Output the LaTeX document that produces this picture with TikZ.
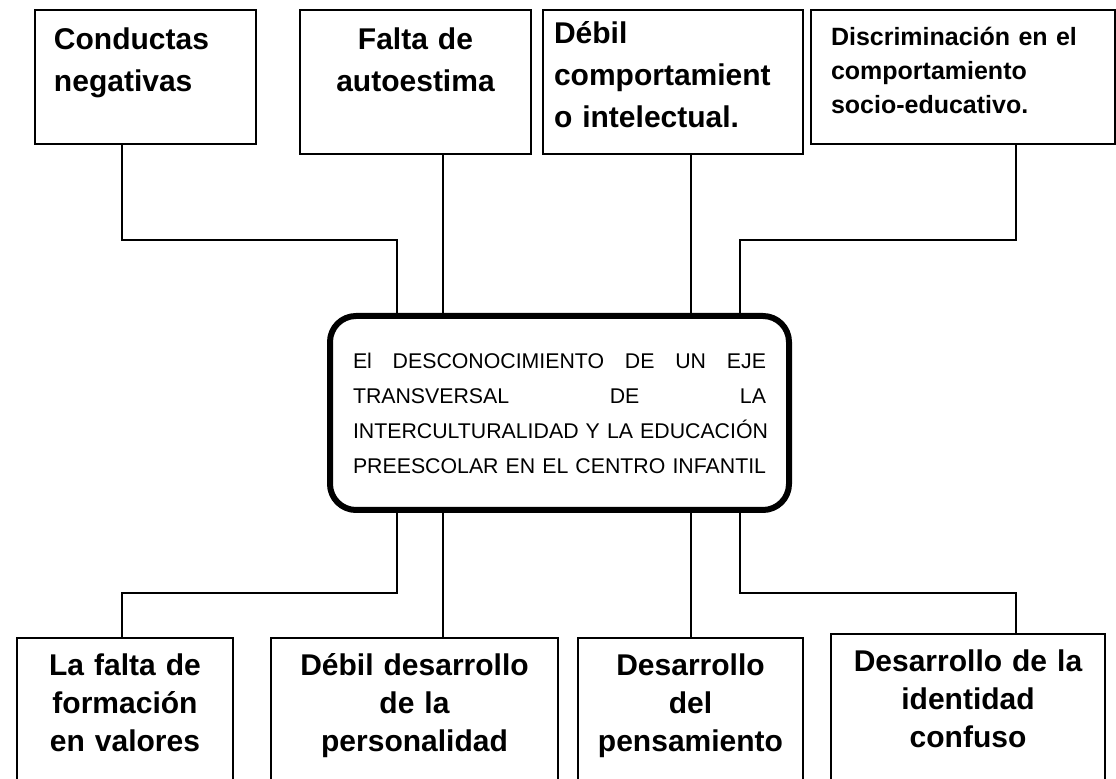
\documentclass[tikz,border=0pt]{standalone}
\usepackage{fontspec}
\setmainfont{Liberation Sans}
\newcommand{\renglon}[1]{\hbox to 206.5pt{#1}}

\begin{document}
\begin{tikzpicture}[x=0.5pt, y=-0.5pt,
  caja/.style={draw, line width=1pt, anchor=north west, inner ysep=0pt},
  efecto/.style={caja, font=\fontsize{15}{21}\selectfont\bfseries},
  causa/.style={caja, align=center, inner xsep=5pt, text height=19pt, text depth=70pt,
    font=\fontsize{15}{19}\selectfont\bfseries},
  problema/.style={draw, line width=3pt, rounded corners=13pt, inner sep=0pt,
    text width=206.5pt, minimum width=229.5pt, minimum height=97pt,
    font=\fontsize{10.65}{17.5}\selectfont},
  enlace/.style={line width=1pt}]
\useasboundingbox (0,0) rectangle (1116,779);
\clip (0,0) rectangle (1116,779);
% efectos
\node[efecto, align=left, inner xsep=9.5pt, text width=91.5pt, text height=20pt, text depth=47pt] (ef1) at (34,9) {Conductas\\negativas};
\node[efecto, align=center, inner xsep=5pt, text width=105.5pt, text height=20pt, text depth=52pt] (ef2) at (299,9) {Falta de\\autoestima};
\node[efecto, align=left, inner xsep=5.5pt, text width=119pt, text height=17pt, text depth=55pt] (ef3) at (542,9) {D\'ebil\\comportamient\\o intelectual.};
\node[efecto, align=left, inner xsep=10pt, text width=132pt, text height=18pt, text depth=49pt,
  font=\fontsize{12.5}{17}\selectfont\bfseries] (ef4) at (810,9) {Discriminaci\'on en el\\comportamiento\\socio-educativo.};
% problema central
\node[problema] (prob) at (559.5,413) {\renglon{El \hfill DESCONOCIMIENTO \hfill DE \hfill UN \hfill EJE}\par
  \renglon{TRANSVERSAL \hfill DE \hfill LA}\par
  \renglon{INTERCULTURALIDAD \hfill Y \hfill LA \hfill EDUCACI\'ON}\par
  \renglon{PREESCOLAR \hfill EN \hfill EL \hfill CENTRO \hfill INFANTIL}};
% causas
\node[causa, text width=98pt] (ca1) at (16,637) {La falta de\\formaci\'on\\en valores};
\node[causa, text width=133.5pt] (ca2) at (270,637) {D\'ebil desarrollo\\de la\\personalidad};
\node[causa, text width=102.5pt] (ca3) at (577,637) {Desarrollo\\del\\pensamiento};
\node[causa, text width=127pt] (ca4) at (830,633) {Desarrollo de la\\identidad\\confuso};
% uniones de arriba
\coordinate (a1) at (122,240);
\coordinate (a1b) at (397,240);
\coordinate (a2) at (443,240);
\coordinate (a3) at (691,240);
\coordinate (a4b) at (740,240);
\coordinate (a4) at (1016,240);
\draw[enlace] (ef1.south -| a1) -- (a1) -- (a1b) -- (prob.north -| a1b);
\draw[enlace] (ef2.south -| a2) -- (prob.north -| a2);
\draw[enlace] (ef3.south -| a3) -- (prob.north -| a3);
\draw[enlace] (ef4.south -| a4) -- (a4) -- (a4b) -- (prob.north -| a4b);
% uniones de abajo
\coordinate (b1) at (122,593);
\coordinate (b1b) at (397,593);
\coordinate (b2) at (443,593);
\coordinate (b3) at (691,593);
\coordinate (b4b) at (740,593);
\coordinate (b4) at (1016,593);
\draw[enlace] (prob.south -| b1b) -- (b1b) -- (b1) -- (ca1.north -| b1);
\draw[enlace] (prob.south -| b2) -- (ca2.north -| b2);
\draw[enlace] (prob.south -| b3) -- (ca3.north -| b3);
\draw[enlace] (prob.south -| b4b) -- (b4b) -- (b4) -- (ca4.north -| b4);
\end{tikzpicture}
\end{document}
